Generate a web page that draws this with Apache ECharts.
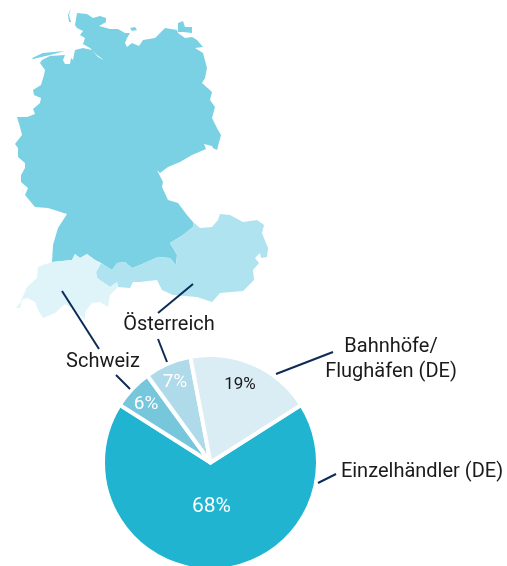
<!DOCTYPE html>
<html>
<head>
<meta charset="utf-8">
<style>html,body{margin:0;padding:0;background:#fff}#main{width:507px;height:566px}</style>
<script src="https://cdn.jsdelivr.net/npm/echarts@6/dist/echarts.min.js"></script>
</head>
<body>
<div id="main"></div>
<script>
var shareNames = ['Einzelhändler (DE)', 'Schweiz', 'Österreich', 'Bahnhöfe/Flughäfen (DE)'];
var shareValues = [68, 6, 7, 19];
var shareColors = ['#20b4d1', '#76c6dc', '#aedae9', '#daecf4'];
var shareLabelColors = ['#ffffff', '#ffffff', '#ffffff', '#1a1a1a'];
var shareLabelSizes = [21, 19, 19, 17];
var shareLabelShift = [[1, -13], [-23, -19], [-13, -28], [7, -26]];

// outlines, in the picture's own units
var germany = [[77,13],[87,14],[93,18],[100,16],[106,18],[106,22],[99,26],[110,29],[118,29],[125,33],[130,33],[127,38],[125,43],[127,47],[132,43],[139,46],[143,40],[155,38],[162,31],[165,28],[177,30],[178,33],[185,38],[192,37],[197,40],[203,47],[195,48],[203,53],[207,68],[205,78],[202,83],[212,92],[210,100],[215,107],[212,118],[218,130],[221,135],[217,150],[213,148],[212,146],[204,144],[206,149],[192,155],[180,162],[168,167],[160,173],[157,170],[163,182],[162,187],[168,200],[178,203],[187,215],[193,222],[193,227],[183,235],[170,243],[177,255],[176,265],[170,258],[158,257],[140,265],[132,268],[125,262],[117,263],[112,270],[101,263],[95,260],[87,254],[80,258],[75,254],[72,260],[52,262],[53,245],[58,228],[67,214],[48,208],[35,207],[25,195],[28,188],[21,182],[21,175],[25,168],[25,163],[18,157],[18,148],[15,144],[22,135],[20,127],[17,117],[27,117],[35,114],[33,109],[40,103],[41,98],[34,95],[33,90],[41,85],[44,75],[45,70],[40,63],[42,60],[50,56],[65,55],[63,60],[65,64],[70,64],[71,58],[73,60],[75,50],[83,48],[92,50],[98,57],[104,60],[97,55],[90,48],[83,44],[85,38],[80,35],[83,31],[77,28],[75,25]];
var sylt = [[71,8],[72,9],[69,15],[71,22],[69,22],[68,15]];
var frisia = [[32,58],[43,53],[65,51],[50,55],[33,59]];
var fehmarn = [[130,28],[135,27],[137,30],[132,31]];
var ruegen = [[178,23],[183,21],[185,27],[192,27],[192,33],[183,32],[178,32]];
var austria = [[193,222],[200,228],[212,227],[218,220],[220,214],[230,215],[243,222],[257,220],[264,225],[262,233],[268,248],[267,257],[261,258],[260,253],[255,258],[259,263],[253,270],[254,280],[243,291],[220,293],[212,302],[197,297],[173,295],[162,290],[157,280],[140,282],[133,282],[130,288],[118,287],[117,282],[110,287],[97,278],[96,272],[101,263],[112,270],[117,263],[125,262],[132,268],[140,265],[158,257],[170,258],[176,265],[177,255],[170,243],[183,235],[193,227]];
var switzerland = [[16,308],[20,303],[27,287],[37,278],[38,267],[43,265],[52,262],[72,260],[75,254],[80,258],[87,254],[95,260],[101,263],[96,272],[97,278],[110,287],[117,282],[118,287],[110,295],[108,307],[100,302],[92,303],[85,312],[85,320],[75,310],[65,304],[55,313],[43,318],[38,310],[35,302],[27,298],[22,300],[20,308]];

function closeRing(ring) {
    return [ring.concat([ring[0]])];
}
function toFeature(name, rings) {
    return { type: 'Feature', properties: { name: name }, geometry: { type: 'MultiPolygon', coordinates: rings.map(closeRing) } };
}
echarts.registerMap('dach', { type: 'FeatureCollection', features: [
    toFeature('Deutschland', [germany, sylt, frisia, fehmarn, ruegen]),
    toFeature('Österreich', [austria]),
    toFeature('Schweiz', [switzerland])
] });

function leader(x1, y1, x2, y2) {
    return { type: 'line', z: 100, shape: { x1: x1, y1: y1, x2: x2, y2: y2 }, style: { stroke: '#0c2b57', lineWidth: 2 } };
}
function caption(text, x, y) {
    return { type: 'text', z: 100, x: x, y: y, style: { text: text, fill: '#1a1a1a', font: '20px Roboto', align: 'center', verticalAlign: 'middle' } };
}

var myChart = echarts.init(document.getElementById('main'));
myChart.setOption({
    animation: false,
    backgroundColor: '#ffffff',
    geo: {
        map: 'dach',
        projection: { project: function (p) { return p; }, unproject: function (p) { return p; } },
        boundingCoords: [[0, 0], [507, 566]],
        left: 0, top: 0, width: 507, height: 566,
        aspectScale: 1,
        silent: true,
        label: { show: false },
        itemStyle: { borderWidth: 0, areaColor: '#79d1e3' },
        regions: [
            { name: 'Deutschland', itemStyle: { areaColor: '#79d1e3' } },
            { name: 'Österreich', itemStyle: { areaColor: '#aee3ef' } },
            { name: 'Schweiz', itemStyle: { areaColor: '#dff4f9' } }
        ]
    },
    series: [{
        type: 'pie',
        center: [210.5, 462.5],
        radius: [0, 107.5],
        startAngle: 32.4,
        silent: true,
        itemStyle: { borderColor: '#ffffff', borderWidth: 4 },
        label: { position: 'inside', formatter: '{c}%', fontFamily: 'Roboto' },
        labelLine: { show: false },
        labelLayout: function (params) {
            var s = shareLabelShift[params.dataIndex];
            return { dx: s[0], dy: s[1] };
        },
        data: shareNames.map(function (name, i) {
            return {
                name: name,
                value: shareValues[i],
                itemStyle: { color: shareColors[i] },
                label: { color: shareLabelColors[i], fontSize: shareLabelSizes[i] }
            };
        })
    }],
    graphic: [
        leader(62, 291, 99, 349),
        leader(193, 284, 158, 313),
        leader(158, 339, 167, 362),
        leader(116, 375, 130, 389),
        leader(333, 352, 276, 374),
        leader(336, 474, 318, 483),
        caption('Österreich', 169, 325),
        caption('Schweiz', 103, 362),
        caption('Bahnhöfe/', 391, 347),
        caption('Flughäfen (DE)', 391, 372),
        caption('Einzelhändler (DE)', 422, 472)
    ]
});
</script>
</body>
</html>
